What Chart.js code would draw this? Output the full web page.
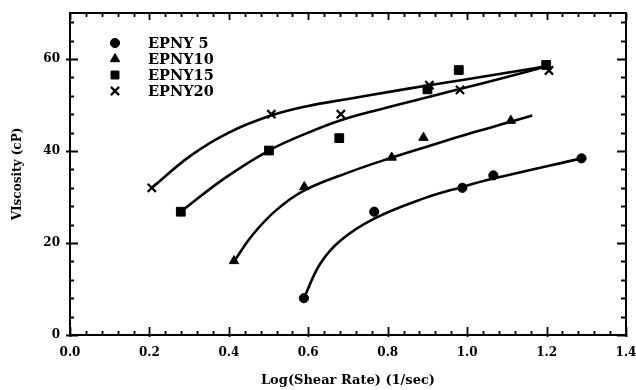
<!DOCTYPE html>
<html>
<head>
<meta charset="utf-8">
<script src="https://cdn.jsdelivr.net/npm/chart.js@4.4.1/dist/chart.umd.min.js"></script>
<style>
  html, body { margin: 0; padding: 0; background: #fff; }
  #wrap { width: 636px; height: 390px; }
</style>
</head>
<body>
<div id="wrap"><canvas id="c" width="636" height="390"></canvas></div>
<script>
const seriesNames = ['EPNY 5', 'EPNY10', 'EPNY15', 'EPNY20'];

const epny5X  = [0.589, 0.766, 0.988, 1.066, 1.288];
const epny5Y  = [8.0, 26.8, 32.0, 34.7, 38.4];
const epny10X = [0.413, 0.590, 0.810, 0.890, 1.110];
const epny10Y = [16.1, 32.2, 38.6, 42.9, 46.6];
const epny15X = [0.279, 0.501, 0.678, 0.900, 0.979, 1.199];
const epny15Y = [26.8, 40.1, 42.8, 53.4, 57.6, 58.7];
const epny20X = [0.206, 0.507, 0.682, 0.905, 0.982, 1.206];
const epny20Y = [32.0, 48.0, 48.0, 54.3, 53.3, 57.5];

// fitted curves
const fit5X  = [0.589, 0.630, 0.682, 0.766, 0.891, 0.988, 1.066, 1.288];
const fit5Y  = [8.0, 15.5, 20.6, 25.3, 29.7, 32.2, 34.0, 38.4];
const fit10X = [0.413, 0.460, 0.520, 0.589, 0.700, 0.808, 0.908, 1.010, 1.112, 1.164];
const fit10Y = [16.0, 21.8, 27.2, 31.4, 35.3, 38.5, 41.2, 43.9, 46.4, 47.7];
const fit15X = [0.279, 0.388, 0.501, 0.600, 0.682, 0.782, 0.900, 0.979, 1.100, 1.200];
const fit15Y = [26.8, 34.0, 40.1, 44.0, 46.7, 49.1, 51.7, 53.4, 56.1, 58.4];
const fit20X = [0.206, 0.304, 0.400, 0.506, 0.600, 0.700, 0.800, 0.904, 1.000, 1.200];
const fit20Y = [32.0, 39.0, 44.0, 47.7, 49.8, 51.3, 52.8, 54.3, 55.6, 58.4];

const xTickValues = [0.0, 0.2, 0.4, 0.6, 0.8, 1.0, 1.2, 1.4];
const yTickValues = [0, 20, 40, 60];
const xMinorStep = 0.04;
const yMinorStep = 4;

const xTitle = 'Log(Shear Rate) (1/sec)';
const yTitle = 'VIscosity (cP)';

// ---- build ----
const pts = (xs, ys) => xs.map((v, i) => ({ x: v, y: ys[i] }));
const markerStyles = [
  { pointStyle: 'circle',   radius: 4.6, borderWidth: 1 },
  { pointStyle: 'triangle', radius: 5.4, borderWidth: 1 },
  { pointStyle: 'rect',     radius: 6.2, borderWidth: 1 },
  { pointStyle: 'crossRot', radius: 5.8, borderWidth: 2.2 }
];
const markerX = [epny5X, epny10X, epny15X, epny20X];
const markerY = [epny5Y, epny10Y, epny15Y, epny20Y];
const fitX = [fit5X, fit10X, fit15X, fit20X];
const fitY = [fit5Y, fit10Y, fit15Y, fit20Y];

const datasets = [];
for (let i = 0; i < 4; i++) {
  datasets.push({
    label: seriesNames[i] + ' fit',
    data: pts(fitX[i], fitY[i]),
    showLine: true,
    borderColor: '#000',
    borderWidth: 2.6,
    pointRadius: 0,
    tension: 0.4,
    fill: false,
    isFit: true
  });
}
for (let i = 0; i < 4; i++) {
  const m = markerStyles[i];
  datasets.push({
    label: seriesNames[i],
    data: pts(markerX[i], markerY[i]),
    showLine: false,
    pointStyle: m.pointStyle,
    pointRadius: m.radius,
    pointBorderWidth: m.borderWidth,
    backgroundColor: '#000',
    borderColor: '#000',
    markerIndex: i
  });
}

const FONT = 'DejaVu Serif';

const framePlugin = {
  id: 'framePlugin',
  afterDraw(chart) {
    const { ctx, chartArea, scales } = chart;
    const { left, right, top, bottom } = chartArea;
    const xs = scales.x, ys = scales.y;
    ctx.save();
    ctx.strokeStyle = '#000';
    ctx.lineWidth = 2;
    ctx.strokeRect(left, top, right - left, bottom - top);
    ctx.lineWidth = 1.8;
    ctx.beginPath();
    const nx = Math.round((xs.max - xs.min) / xMinorStep);
    for (let i = 0; i <= nx; i++) {
      const v = xs.min + i * xMinorStep;
      const px = Math.round(xs.getPixelForValue(v)) + 0.5;
      const major = i % 5 === 0;
      const inLen = major ? 8 : 4;
      ctx.moveTo(px, bottom + (major ? 2 : 0)); ctx.lineTo(px, bottom - inLen);
      ctx.moveTo(px, top); ctx.lineTo(px, top + (major ? 7 : 4));
    }
    const ny = Math.floor((ys.max - ys.min) / yMinorStep);
    for (let i = 0; i <= ny; i++) {
      const v = ys.min + i * yMinorStep;
      const py = Math.round(ys.getPixelForValue(v)) + 0.5;
      const major = i % 5 === 0;
      ctx.moveTo(left - (major ? 4 : 0), py); ctx.lineTo(left + (major ? 8 : 4), py);
      ctx.moveTo(right, py); ctx.lineTo(right - (major ? 9 : 5), py);
    }
    ctx.stroke();

    // legend inside plot
    const items = chart.data.datasets.filter(d => !d.isFit);
    const mx = left + 45, tx = left + 78, y0 = top + 30, dy = 16;
    ctx.font = 'bold 14.5px "' + FONT + '"';
    ctx.textBaseline = 'middle';
    ctx.textAlign = 'left';
    items.forEach((d, k) => {
      const yy = y0 + k * dy;
      const opts = {
        pointStyle: d.pointStyle,
        radius: d.pointStyle === 'rect' ? 5.6 : d.pointRadius,
        borderWidth: d.pointBorderWidth,
        rotation: 0
      };
      ctx.fillStyle = '#000';
      ctx.strokeStyle = '#000';
      ctx.lineWidth = d.pointBorderWidth;
      if (Chart.helpers && Chart.helpers.drawPoint) {
        Chart.helpers.drawPoint(ctx, opts, mx, yy);
      }
      ctx.fillText(d.label, tx, yy + 1);
    });
    ctx.restore();
  }
};

Chart.defaults.font.family = FONT;
Chart.defaults.font.weight = 'bold';
Chart.defaults.color = '#000';

new Chart(document.getElementById('c'), {
  type: 'scatter',
  data: { datasets },
  options: {
    responsive: false,
    animation: false,
    layout: { padding: { left: 0, right: 10, top: 13, bottom: 0 } },
    plugins: { legend: { display: false }, tooltip: { enabled: false } },
    scales: {
      x: {
        type: 'linear',
        min: 0, max: 1.4,
        grid: { display: false, drawTicks: false },
        border: { display: false },
        afterBuildTicks: s => { s.ticks = xTickValues.map(v => ({ value: v })); },
        afterFit: s => { s.height = 55; s.paddingLeft = 0; s.paddingRight = 0; },
        ticks: {
          padding: 11,
          font: { size: 12, weight: 'bold', family: FONT },
          maxRotation: 0,
          callback: v => Number(v).toFixed(1)
        },
        title: {
          display: true, text: xTitle,
          font: { size: 13, weight: 'bold', family: FONT },
          padding: { top: 0, bottom: 2 }
        }
      },
      y: {
        type: 'linear',
        min: 0, max: 70,
        grid: { display: false, drawTicks: false },
        border: { display: false },
        afterBuildTicks: s => { s.ticks = yTickValues.map(v => ({ value: v })); },
        afterFit: s => { s.width = 70; s.paddingTop = 0; s.paddingBottom = 0; },
        ticks: {
          padding: 10,
          font: { size: 12, weight: 'bold', family: FONT },
          callback: v => String(v)
        },
        title: {
          display: true, text: yTitle,
          font: { size: 12, weight: 'bold', family: FONT },
          padding: { top: 11, bottom: 0 }
        }
      }
    }
  },
  plugins: [framePlugin]
});
</script>
</body>
</html>
